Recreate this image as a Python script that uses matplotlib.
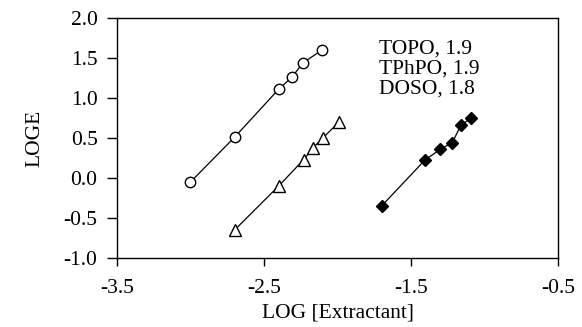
import numpy as np
import matplotlib.pyplot as plt

# data
topo_x = [-3.00, -2.70, -2.40, -2.31, -2.235, -2.105]
topo_y = [-0.05, 0.51, 1.11, 1.26, 1.44, 1.60]

tphpo_x = [-2.70, -2.40, -2.23, -2.17, -2.10, -1.99]
tphpo_y = [-0.65, -0.10, 0.23, 0.37, 0.50, 0.70]

doso_x = [-1.70, -1.405, -1.30, -1.22, -1.16, -1.09]
doso_y = [-0.35, 0.225, 0.36, 0.44, 0.66, 0.75]

labels = ["TOPO, 1.9", "TPhPO, 1.9", "DOSO, 1.8"]

plt.rcParams['font.family'] = ['Liberation Serif', 'DejaVu Serif']

fig = plt.figure(figsize=(5.82, 3.27), dpi=100)
ax = fig.add_axes([117 / 582, 1 - 258 / 327, (558 - 117) / 582, (258 - 18) / 327])

ax.plot(topo_x, topo_y, "-o", color="black", lw=0.9, ms=7.5,
        mfc="white", mec="black", mew=1.0)
ax.plot(tphpo_x, tphpo_y, "-^", color="black", lw=0.9, ms=8.5,
        mfc="white", mec="black", mew=1.0)
ax.plot(doso_x, doso_y, "-D", color="black", lw=0.9, ms=6,
        mfc="black", mec="black")

# legend-like text block, placed in pixels from the top-left
for i, s in enumerate(labels):
    ax.text(379, 327 - (49 + 20 * i), s, transform=None, fontsize=15.5,
            va="center", ha="left")

ax.set_xlim(-3.5, -0.5)
ax.set_ylim(-1.0, 2.0)
ax.set_xticks([-3.5, -2.5, -1.5, -0.5])
ax.set_yticks(np.arange(-1.0, 2.01, 0.5))
ax.xaxis.set_major_formatter(plt.FormatStrFormatter("%.1f"))
ax.yaxis.set_major_formatter(plt.FormatStrFormatter("%.1f"))
ax.tick_params(direction="out", width=1, labelsize=15.5,
               top=False, right=False)
ax.tick_params(axis="x", length=6, pad=9)
ax.tick_params(axis="y", length=7, pad=7)
for sp in ax.spines.values():
    sp.set_linewidth(1)

ax.set_xlabel("LOG [Extractant]", fontsize=15.5, labelpad=4)
ax.set_ylabel("LOGE", fontsize=15.5, labelpad=14)

fig.savefig("out.png", dpi=100)
